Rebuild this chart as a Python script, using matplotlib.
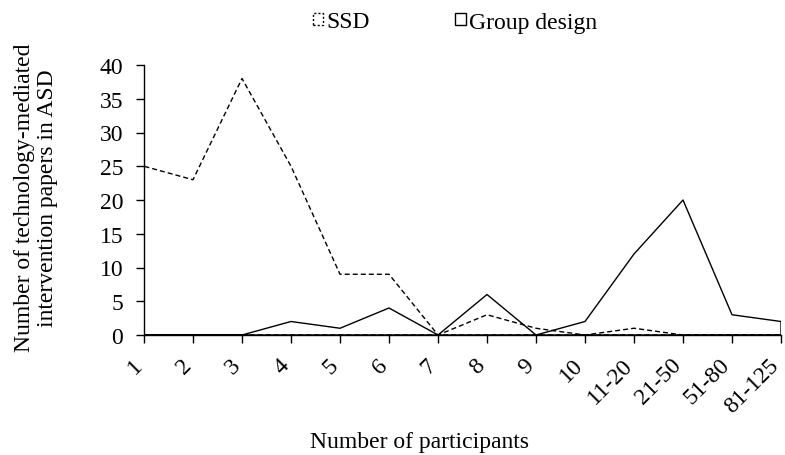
import matplotlib
matplotlib.use("Agg")
import matplotlib.pyplot as plt
from matplotlib.patches import Patch
from matplotlib.transforms import ScaledTranslation
import numpy as np

categories = ["1", "2", "3", "4", "5", "6", "7", "8", "9", "10",
              "11-20", "21-50", "51-80", "81-125"]
ssd = [25, 23, 38, 25, 9, 9, 0, 3, 1, 0, 1, 0, 0, 0]
group_design = [0, 0, 0, 2, 1, 4, 0, 6, 0, 2, 12, 20, 3, 2]
y_ticks = [0, 5, 10, 15, 20, 25, 30, 35, 40]

plt.rcParams["font.family"] = ["Liberation Serif", "DejaVu Serif"]
FS = 17

W, H = 785, 456
fig = plt.figure(figsize=(W / 100, H / 100), dpi=100)
ax = fig.add_axes([144 / W, 1 - 336 / H, (781 - 144) / W, (336 - 66) / H])

x = np.arange(len(categories))
dash = (0, (3.6, 2.2))

# Unfilled area outlines: each series closes down to the baseline at both ends
ax.fill_between(x, ssd, 0, facecolor="none", edgecolor="black",
                linewidth=1.0, linestyle=dash)
ax.fill_between(x, group_design, 0, facecolor="none", edgecolor="black",
                linewidth=1.0, linestyle="-")

ax.set_xlim(0, len(categories) - 1)
ax.set_ylim(0, 40)
ax.set_yticks(y_ticks)
ax.set_yticklabels([str(v) for v in y_ticks], fontsize=FS)
ax.set_xticks(x)
ax.set_xticklabels(categories, fontsize=FS, rotation=45, ha="right",
                   va="center", rotation_mode="anchor")

for side in ("top", "right"):
    ax.spines[side].set_visible(False)
for side in ("left", "bottom"):
    ax.spines[side].set_linewidth(1.0)
ax.tick_params(axis="y", direction="out", length=6, width=1.0, pad=9)
ax.tick_params(axis="x", direction="out", length=6, width=1.0, pad=13)

shift = ScaledTranslation(-5 / 100, 0, fig.dpi_scale_trans)
for lab in ax.get_xticklabels():
    lab.set_transform(lab.get_transform() + shift)

fig.text(36 / W, 1 - 198 / H,
         "Number of technology-mediated\nintervention papers in ASD",
         fontsize=FS, rotation=90, ha="center", va="center", linespacing=1.1)
fig.text(420 / W, 1 - 443 / H, "Number of participants",
         fontsize=FS, ha="center", va="center")

handles = [
    Patch(facecolor="none", edgecolor="black", linestyle=(0, (1.5, 1.5)),
          linewidth=1.0, label="SSD"),
    Patch(facecolor="none", edgecolor="black", linestyle="-",
          linewidth=1.0, label="Group design"),
]
fig.legend(handles=handles, loc="center", bbox_to_anchor=(455 / W, 1 - 23 / H),
           ncol=2, frameon=False, fontsize=FS, handlelength=0.45, handleheight=0.45,
           handletextpad=0.15, columnspacing=3.6, borderpad=0, borderaxespad=0)

fig.savefig("out.png", dpi=100)
